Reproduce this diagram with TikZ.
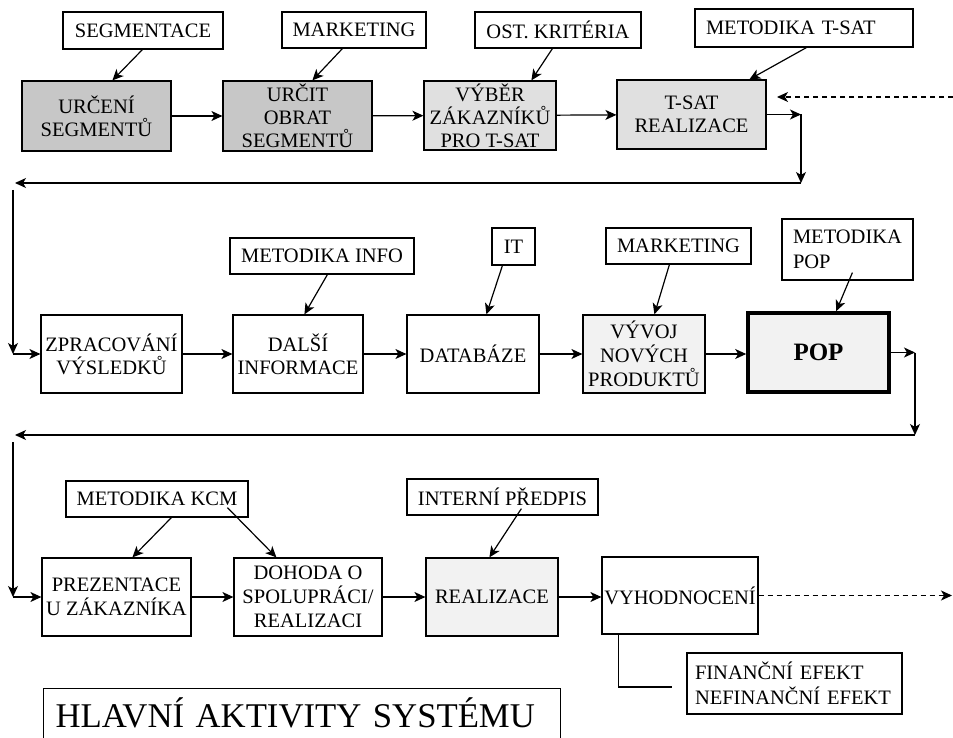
\documentclass[tikz,border=0pt]{standalone}
\usepackage{fontspec}
\setmainfont{Liberation Serif}
\usetikzlibrary{arrows.meta,calc}
\begin{document}
\begin{tikzpicture}[x=1pt,y=-1pt,
  box/.style={draw, line width=1.2pt, inner sep=0pt, align=center,
    font=\fontsize{20.5}{23}\selectfont},
  lbox/.style={draw, line width=1.2pt, inner ysep=0pt, inner xsep=11pt,
    align=left, font=\fontsize{20.5}{25}\selectfont},
  dark/.style={fill=black!22},
  mid/.style={fill=black!12},
  pale/.style={fill=black!5},
  arr/.style={line width=1.2pt, -{Stealth[length=11pt,width=10pt,inset=3pt]}},
  darr/.style={arr, dash pattern=on 5pt off 4pt},
  link/.style={line width=1.2pt},
]
\useasboundingbox (0,0) rectangle (953,738);

% ---- first row: inputs
\node[box, minimum width=160pt, minimum height=37pt] (seg)  at (143,30.5) {SEGMENTACE};
\node[box, minimum width=144pt, minimum height=36pt] (mkt1) at (354,30) {MARKETING};
\node[box, minimum width=166pt, minimum height=36pt] (ost)  at (558,30) {OST. KRITÉRIA};
\node[lbox, text width=196pt, minimum height=38pt]   (mts)  at (804,28) {METODIKA T-SAT};

% ---- first row: activities
\node[box, dark, minimum width=149pt, minimum height=70pt] (b1) at (96.5,116) {URČENÍ\\SEGMENTŮ};
\node[box, dark, minimum width=149pt, minimum height=70pt] (b2) at (297.5,116) {URČIT\\OBRAT\\SEGMENTŮ};
\node[box, mid,  minimum width=132pt, minimum height=69pt] (b3) at (490,115.5) {VÝBĚR\\ZÁKAZNÍKŮ\\PRO T-SAT};
\node[box, mid,  minimum width=149pt, minimum height=69pt] (b4) at (691.5,114.5) {T-SAT\\REALIZACE};

\draw[arr] ([xshift=80pt]seg.south west)  -- ([xshift=91pt]b1.north west);
\draw[arr] ([xshift=61pt]mkt1.south west) -- ([xshift=90pt]b2.north west);
\draw[arr] ([xshift=78pt]ost.south west)  -- ([xshift=108pt]b3.north west);
\draw[arr] ([xshift=112pt]mts.south west) -- ([xshift=133pt]b4.north west);

\draw[arr] (b1) -- (b2);
\draw[arr] (b2) -- (b3);
\draw[arr] (b3) -- (b4);

\coordinate (c1) at (801,114.5);
\coordinate (c2) at (801,183);
\coordinate (c3) at (15,183);
\coordinate (c4) at (13,190);
\coordinate (c5) at (13,354);
\coordinate (d1) at (953,97);
\coordinate (d2) at (777,97);
\draw[arr] (b4.east) -- (c1);
\draw[arr] (c1) -- (c2);
\draw[arr] (c2) -- (c3);
\draw[darr] (d1) -- (d2);

% ---- second row: inputs
\node[box, minimum width=184pt, minimum height=36pt] (minfo) at (322,256) {METODIKA INFO};
\node[box, minimum width=43pt,  minimum height=37pt] (it)    at (513.5,246.5) {IT};
\node[box, minimum width=145pt, minimum height=36pt] (mkt2)  at (678.5,246) {MARKETING};
\node[lbox, text width=109pt, minimum height=61pt]   (mpop)  at (847.5,249.5) {METODIKA\\POP};

% ---- second row: activities
\node[box, minimum width=141pt, minimum height=78pt] (zpr) at (111.5,354) {ZPRACOVÁNÍ\\VÝSLEDKŮ};
\node[box, minimum width=130pt, minimum height=78pt] (dal) at (298,354) {DALŠÍ\\INFORMACE};
\node[box, minimum width=132pt, minimum height=78pt] (dat) at (473,354) {DATABÁZE};
\node[box, pale, minimum width=122pt, minimum height=78pt,
      font=\fontsize{20.5}{24}\selectfont] (vyv) at (644,354) {VÝVOJ\\NOVÝCH\\PRODUKTŮ};
\node[box, pale, line width=3.6pt, minimum width=141pt, minimum height=79pt,
      font=\fontsize{25}{28}\selectfont\bfseries] (pop) at (818.5,352.5) {POP};

\draw[arr] (c4) -- (c5);
\draw[arr] (c5) -- (zpr.west);

\draw[arr] ([xshift=98pt]minfo.south west) -- ([xshift=72pt]dal.north west);
\draw[arr] ([xshift=11pt]it.south west)    -- ([xshift=80pt]dat.north west);
\draw[arr] ([xshift=64pt]mkt2.south west)  -- ([xshift=72pt]vyv.north west);
\draw[arr] ([xshift=71pt,yshift=8pt]mpop.south west) -- ([xshift=90pt]pop.north west);

\draw[arr] (zpr) -- (dal);
\draw[arr] (dal) -- (dat);
\draw[arr] (dat) -- (vyv);
\draw[arr] (vyv.east) -- (vyv.east -| pop.west);

\coordinate (e1) at (915,352.5);
\coordinate (e2) at (915,435);
\coordinate (e3) at (15,435);
\coordinate (e4) at (13,442);
\coordinate (e5) at (13,597);
\draw[arr] (pop.east) -- (e1);
\draw[arr] (e1) -- (e2);
\draw[arr] (e2) -- (e3);

% ---- third row: inputs
\node[box, minimum width=182pt, minimum height=36pt] (kcm) at (157,499) {METODIKA KCM};
\node[box, minimum width=191pt, minimum height=36pt] (int) at (502.5,497) {INTERNÍ PŘEDPIS};

% ---- third row: activities
\node[box, minimum width=149pt, minimum height=78pt,
      font=\fontsize{20.5}{24}\selectfont] (pre) at (116.5,597) {PREZENTACE\\U ZÁKAZNÍKA};
\node[box, minimum width=148pt, minimum height=78pt,
      font=\fontsize{20.5}{24}\selectfont] (doh) at (308,597) {DOHODA O\\SPOLUPRÁCI/\\REALIZACI};
\node[box, pale, minimum width=132pt, minimum height=78pt] (rea) at (492,597) {REALIZACE};
\node[box, minimum width=156pt, minimum height=77pt] (vyh) at (680,595.5) {VYHODNOCENÍ};

\draw[arr] (e4) -- (e5);
\draw[arr] (e5) -- (pre.west);

\draw[arr] ([xshift=106pt]kcm.south west) -- ([xshift=91pt]pre.north west);
\draw[arr] ([xshift=162pt,yshift=10pt]kcm.south west) -- ([xshift=43pt]doh.north west);
\draw[arr] ([xshift=115pt,yshift=7pt]int.south west) -- ([xshift=64pt]rea.north west);

\draw[arr] (pre) -- (doh);
\draw[arr] (doh) -- (rea);
\draw[arr] (rea.east) -- (rea.east -| vyh.west);

\coordinate (f1) at (952,595.5);
\draw[darr] (vyh.east) -- (f1);

% ---- results
\node[lbox, inner xsep=8pt, text width=199pt, minimum height=61pt] (fin) at (794.5,683.5)
  {FINANČNÍ EFEKT\\NEFINANČNÍ EFEKT};
\coordinate (g1) at (672,687);
\draw[link] ([xshift=17pt]vyh.south west) |- (g1);

% ---- title
\node[draw, line width=1.2pt, anchor=north west, inner xsep=12pt, inner ysep=0pt,
      text width=493pt, align=left, text height=39pt, text depth=45pt,
      font=\fontsize{34.7}{40}\selectfont] (title) at (43,688) {HLAVNÍ AKTIVITY SYSTÉMU};
\end{tikzpicture}
\end{document}
